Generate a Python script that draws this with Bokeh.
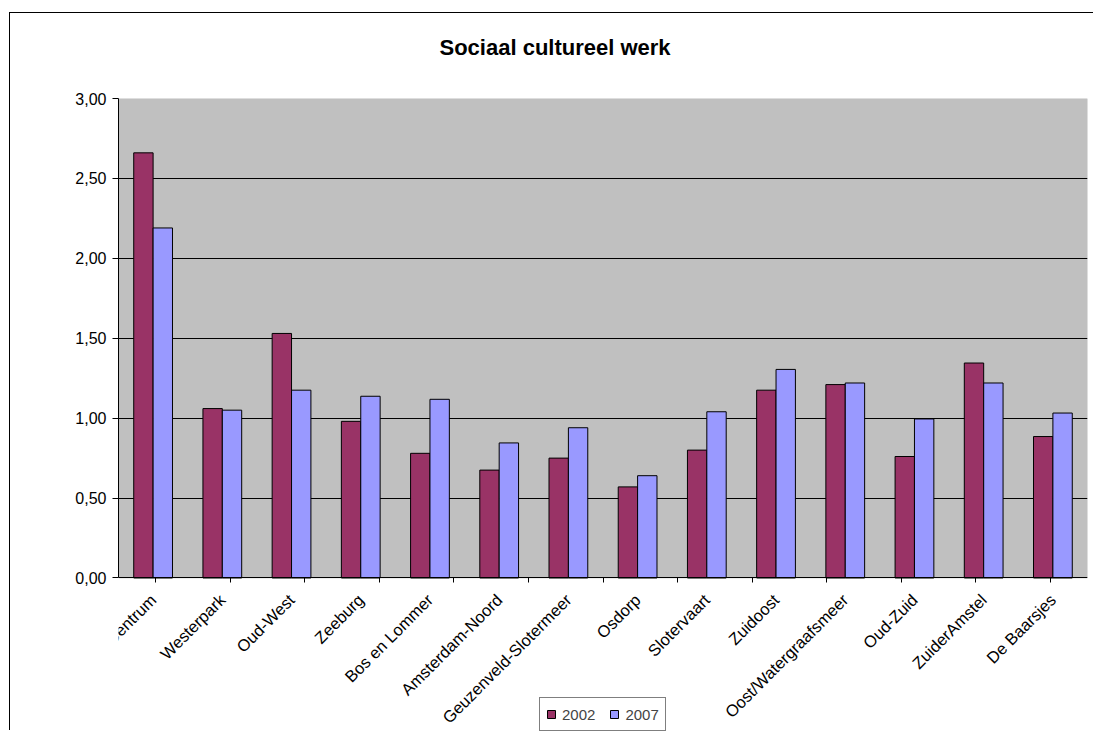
from math import pi
from bokeh.plotting import figure
from bokeh.models import (ColumnDataSource, FactorRange, Range1d, CategoricalAxis, BoxAnnotation,
                          FixedTicker, CustomJSTickFormatter, Legend, LegendItem)
from bokeh.transform import dodge
from bokeh.embed import file_html
from bokeh.resources import INLINE

# ---- data ----
districts = ["Amsterdam-Centrum", "Westerpark", "Oud-West", "Zeeburg", "Bos en Lommer",
             "Amsterdam-Noord", "Geuzenveld-Slotermeer", "Osdorp", "Slotervaart", "Zuidoost",
             "Oost/Watergraafsmeer", "Oud-Zuid", "ZuiderAmstel", "De Baarsjes"]
v2002 = [2.66, 1.06, 1.53, 0.98, 0.78, 0.675, 0.75, 0.57, 0.80, 1.175, 1.21, 0.76, 1.345, 0.885]
v2007 = [2.19, 1.05, 1.175, 1.137, 1.118, 0.845, 0.94, 0.64, 1.04, 1.305, 1.22, 0.995, 1.22, 1.032]
series_names = ["2002", "2007"]
y_ticks = [0.0, 0.5, 1.0, 1.5, 2.0, 2.5, 3.0]
title_text = "Sociaal cultureel werk"

FONT = "Liberation Sans"

# layout constants (pixels)
W, H = 1084, 718
TOP, LEFT, RIGHT = 83, 108, 7
PLOT_H = 481                 # height of the grey plot area (0 .. 3)
BELOW = H - TOP - PLOT_H     # room under the plot area for labels + legend
y_max = y_ticks[-1]
y_min = -BELOW * y_max / PLOT_H

source = ColumnDataSource(dict(district=districts, v2002=v2002, v2007=v2007))

p = figure(width=W, height=H,
           x_range=FactorRange(*districts), y_range=Range1d(y_min, y_max),
           x_axis_location=None, output_backend="svg", toolbar_location=None,
           min_border_left=LEFT, min_border_right=RIGHT, min_border_top=TOP, min_border_bottom=0)

p.styles = {"border-left": "1px solid black", "border-top": "1px solid black",
            "margin-left": "9px", "margin-top": "12px"}

p.background_fill_color = "white"
p.border_fill_color = "white"
p.outline_line_color = None
p.xgrid.visible = False

# grey plot area
p.add_layout(BoxAnnotation(bottom=0, top=y_max, fill_color="#C0C0C0", fill_alpha=1,
                           line_color="#808080", line_width=1, level="image"))

# title
p.title.text = title_text
p.title.align = "left"
p.title.offset = 321
p.title.vertical_align = "top"
p.title.standoff = 42
p.title.text_font = FONT
p.title.text_font_style = "bold"
p.title.text_font_size = "22px"
p.title.text_color = "black"

# invisible spacer axis between title and plot area
spacer_axis = CategoricalAxis(formatter=CustomJSTickFormatter(code="return '';"),
                              major_label_text_color=None, major_label_text_font_size="1px",
                              major_label_standoff=0, major_tick_in=0, major_tick_out=16,
                              major_tick_line_color=None, axis_line_color=None)
p.add_layout(spacer_axis, "above")

# y axis
p.yaxis.ticker = FixedTicker(ticks=y_ticks)
p.yaxis.bounds = (0, y_max)
p.yaxis.formatter = CustomJSTickFormatter(code="return tick.toFixed(2).replace('.', ',');")
p.yaxis.major_label_text_font = FONT
p.yaxis.major_label_text_font_size = "16px"
p.yaxis.major_label_text_color = "black"
p.yaxis.major_tick_in = 0
p.yaxis.major_tick_out = 6
p.yaxis.minor_tick_line_color = None
p.yaxis.axis_line_color = "black"
p.yaxis.major_tick_line_color = "black"
p.yaxis.major_label_standoff = 6
p.ygrid.ticker = FixedTicker(ticks=y_ticks[1:-1])
p.ygrid.grid_line_color = "black"
p.ygrid.grid_line_width = 1

# bars
r1 = p.vbar(x=dodge("district", -0.14, range=p.x_range), top="v2002", width=0.28,
            source=source, fill_color="#993366", line_color="black", line_width=1)
r2 = p.vbar(x=dodge("district", 0.14, range=p.x_range), top="v2007", width=0.28,
            source=source, fill_color="#9999FF", line_color="black", line_width=1)

# x axes at value 0: ticks on category boundaries (a shifted factor range) + category labels
boundaries = ["|%d" % i for i in range(len(districts) + 1)]
p.extra_x_ranges = {"bounds": FactorRange(factors=boundaries, range_padding=-1,
                                          range_padding_units="absolute")}
tick_axis = CategoricalAxis(x_range_name="bounds", fixed_location=0,
                            formatter=CustomJSTickFormatter(code="return '';"),
                            major_label_text_color=None, major_label_text_font_size="1px",
                            major_label_standoff=0,
                            major_tick_in=0, major_tick_out=5,
                            axis_line_color="black", major_tick_line_color="black")
cat_axis = CategoricalAxis(fixed_location=0, major_label_orientation=pi / 4,
                           major_tick_line_color=None, major_tick_out=0, major_tick_in=0,
                           axis_line_color=None, major_label_standoff=19,
                           major_label_text_font=FONT, major_label_text_font_size="16.5px",
                           major_label_text_color="black")
p.add_layout(tick_axis, "below")
p.add_layout(cat_axis, "below")

# legend, placed under the plot area between the labels
legend = Legend(items=[LegendItem(label=series_names[0], renderers=[r1]),
                       LegendItem(label=series_names[1], renderers=[r2])],
                orientation="horizontal", location=(421, 0),
                border_line_color="black", border_line_width=1, background_fill_color="white",
                background_fill_alpha=1, label_text_font=FONT, label_text_font_size="15px",
                glyph_width=10, glyph_height=10, label_height=20, label_standoff=6,
                spacing=14, padding=6, margin=0)
p.add_layout(legend)

open("out.html", "w").write(file_html(p, INLINE))
